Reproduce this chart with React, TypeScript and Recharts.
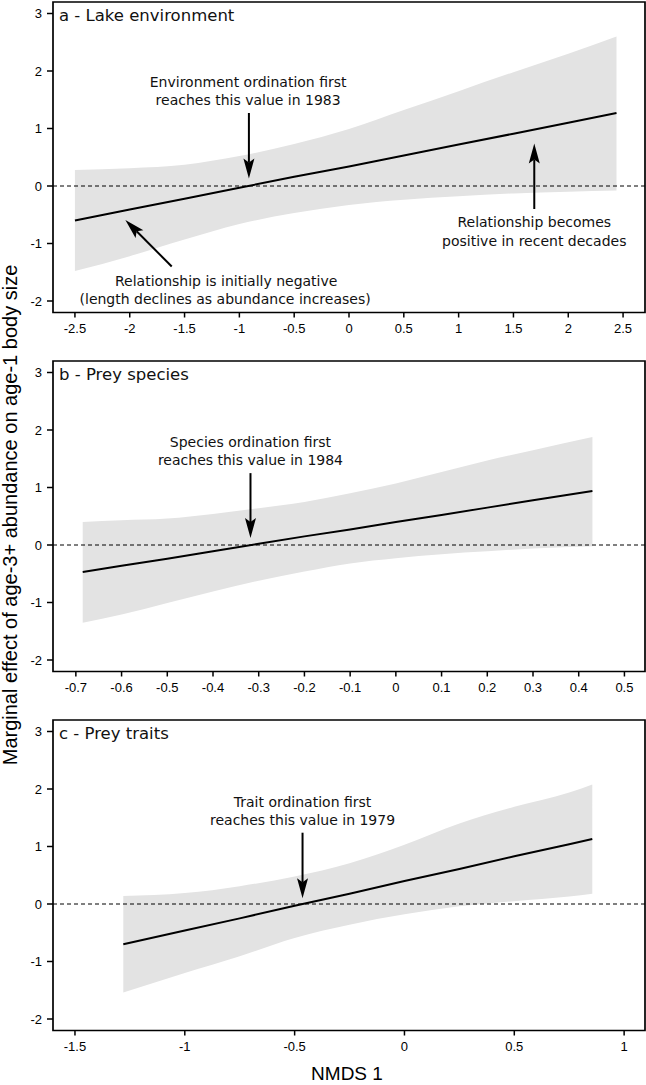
import React from 'react';
import {
  ComposedChart,
  Area,
  Line,
  XAxis,
  YAxis,
  ReferenceLine,
  ReferenceArea,
  ReferenceDot,
} from 'recharts';

// ---------- Panel a: Lake environment ----------
const envX = [-2.5, -2.0, -1.5, -1.0, -0.5, 0, 0.5, 1.0, 1.5, 2.0, 2.44];
const envFit = [-0.6, -0.41, -0.22, -0.03, 0.16, 0.34, 0.53, 0.72, 0.91, 1.1, 1.27];
const envLower = [-1.48, -1.22, -0.93, -0.66, -0.47, -0.33, -0.24, -0.18, -0.13, -0.1, -0.08];
const envUpper = [0.28, 0.31, 0.37, 0.52, 0.73, 0.99, 1.32, 1.65, 1.98, 2.3, 2.6];
const envTicks = [-2.5, -2, -1.5, -1, -0.5, 0, 0.5, 1, 1.5, 2, 2.5];

// ---------- Panel b: Prey species ----------
const spX = [-0.685, -0.6, -0.5, -0.4, -0.3, -0.2, -0.1, 0, 0.1, 0.2, 0.3, 0.43];
const spFit = [-0.47, -0.36, -0.24, -0.11, 0.02, 0.15, 0.27, 0.4, 0.52, 0.65, 0.78, 0.94];
const spLower = [-1.35, -1.21, -1.01, -0.81, -0.62, -0.46, -0.32, -0.23, -0.16, -0.11, -0.06, -0.02];
const spUpper = [0.4, 0.43, 0.46, 0.54, 0.64, 0.75, 0.9, 1.07, 1.27, 1.47, 1.65, 1.88];
const spTicks = [-0.7, -0.6, -0.5, -0.4, -0.3, -0.2, -0.1, 0, 0.1, 0.2, 0.3, 0.4, 0.5];

// ---------- Panel c: Prey traits ----------
const trX = [-1.28, -1.0, -0.75, -0.5, -0.25, 0, 0.25, 0.5, 0.75, 0.855];
const trFit = [-0.7, -0.46, -0.25, -0.03, 0.18, 0.4, 0.61, 0.83, 1.04, 1.13];
const trLower = [-1.54, -1.2, -0.91, -0.59, -0.36, -0.18, -0.04, 0.05, 0.13, 0.18];
const trUpper = [0.14, 0.19, 0.31, 0.48, 0.71, 1.03, 1.4, 1.69, 1.94, 2.08];
const trTicks = [-1.5, -1, -0.5, 0, 0.5, 1];

const yTicks = [-2, -1, 0, 1, 2, 3];
const yDomain: [number, number] = [-2.2, 3.2];

const envNotes = [
  { text: 'Environment ordination first', x: -0.92, y: 1.81 },
  { text: 'reaches this value in 1983', x: -0.92, y: 1.5 },
  { text: 'Relationship becomes', x: 1.69, y: -0.63 },
  { text: 'positive in recent decades', x: 1.69, y: -0.96 },
  { text: 'Relationship is initially negative', x: -1.12, y: -1.66 },
  { text: '(length declines as abundance increases)', x: -1.13, y: -1.97 },
];
const envArrows = [
  { from: [-0.913, 1.27], to: [-0.913, 0.13] },
  { from: [1.69, -0.4], to: [1.69, 0.74] },
  { from: [-1.617, -1.4], to: [-2.04, -0.59] },
];

const spNotes = [
  { text: 'Species ordination first', x: -0.318, y: 1.79 },
  { text: 'reaches this value in 1984', x: -0.318, y: 1.48 },
];
const spArrows = [{ from: [-0.318, 1.25], to: [-0.318, 0.12] }];

const trNotes = [
  { text: 'Trait ordination first', x: -0.464, y: 1.77 },
  { text: 'reaches this value in 1979', x: -0.464, y: 1.46 },
];
const trArrows = [{ from: [-0.464, 1.24], to: [-0.464, 0.1] }];

const PLOT_H = 310.5;
const M_TOP = 4;
const X_AX_H = 48;
const ANN_FONT = '"DejaVu Sans", Verdana, sans-serif';
const TICK_FONT = '"Liberation Sans", Arial, sans-serif';

function ArrowShape(props: any) {
  const { x1, y1, x2, y2 } = props;
  const dx = x2 - x1;
  const dy = y2 - y1;
  const len = Math.hypot(dx, dy) || 1;
  const ux = dx / len;
  const uy = dy / len;
  const nx = -uy;
  const ny = ux;
  const L = 20;
  const Wd = 5.5;
  const N = 4;
  const bx = x2 - ux * L;
  const by = y2 - uy * L;
  const kx = x2 - ux * (L - N);
  const ky = y2 - uy * (L - N);
  const pts = [
    [x2, y2],
    [bx + nx * Wd, by + ny * Wd],
    [kx, ky],
    [bx - nx * Wd, by - ny * Wd],
  ];
  return (
    <g>
      <line x1={x1} y1={y1} x2={kx} y2={ky} stroke="#000" strokeWidth={2} />
      <polygon points={pts.map((p) => p.join(',')).join(' ')} fill="#000" />
    </g>
  );
}

type Note = { text: string; x: number; y: number };
type Arr = { from: number[]; to: number[] };

function Panel(props: {
  top: number;
  xs: number[];
  fit: number[];
  lower: number[];
  upper: number[];
  ticks: number[];
  xDomain: [number, number];
  title: string;
  notes: Note[];
  arrows: Arr[];
}) {
  const { top, xs, fit, lower, upper, ticks, xDomain, title, notes, arrows } = props;
  const data = xs.map((x, i) => ({ x, fit: fit[i], band: [lower[i], upper[i]] }));
  return (
    <div style={{ position: 'absolute', left: 0, top: top - M_TOP }}>
      <ComposedChart
        width={646}
        height={M_TOP + PLOT_H + X_AX_H}
        data={data}
        margin={{ top: M_TOP, right: 1, bottom: 0, left: 0 }}
      >
        <XAxis
          dataKey="x"
          type="number"
          domain={xDomain}
          ticks={ticks}
          interval={0}
          allowDataOverflow
          height={X_AX_H}
          axisLine={false}
          tickSize={5}
          tickMargin={6}
          tickLine={{ stroke: '#000', strokeWidth: 1.5 }}
          tick={{ fill: '#000', fontSize: 13, fontFamily: TICK_FONT }}
        />
        <YAxis
          type="number"
          domain={yDomain}
          ticks={yTicks}
          interval={0}
          allowDataOverflow
          width={53}
          axisLine={false}
          tickSize={6}
          tickMargin={5}
          tickLine={{ stroke: '#000', strokeWidth: 1.5 }}
          tick={{ fill: '#000', fontSize: 13, fontFamily: TICK_FONT }}
        />
        <Area
          dataKey="band"
          type="monotone"
          stroke="none"
          fill="#e3e3e3"
          fillOpacity={1}
          isAnimationActive={false}
          activeDot={false}
        />
        <ReferenceLine y={0} stroke="#000" strokeWidth={1} strokeDasharray="4 3" />
        <Line
          dataKey="fit"
          type="linear"
          stroke="#000"
          strokeWidth={2}
          dot={false}
          activeDot={false}
          isAnimationActive={false}
        />
        {arrows.map((a, i) => (
          <ReferenceLine
            key={'ar' + i}
            segment={[
              { x: a.from[0], y: a.from[1] },
              { x: a.to[0], y: a.to[1] },
            ]}
            ifOverflow="visible"
            shape={(p: any) => <ArrowShape {...p} />}
          />
        ))}
        {notes.map((n, i) => (
          <ReferenceDot
            key={'nt' + i}
            x={n.x}
            y={n.y}
            r={1}
            ifOverflow="visible"
            shape={(p: any) => (
              <text
                x={p.cx}
                y={p.cy}
                textAnchor="middle"
                dominantBaseline="central"
                fontFamily={ANN_FONT}
                fontSize={14}
                fill="#111"
              >
                {n.text}
              </text>
            )}
          />
        ))}
        <ReferenceDot
          x={xDomain[0]}
          y={yDomain[1]}
          r={1}
          ifOverflow="visible"
          shape={(p: any) => (
            <text x={p.cx + 6} y={p.cy + 19} fontFamily={ANN_FONT} fontSize={16.5} fill="#111">
              {title}
            </text>
          )}
        />
        <ReferenceArea
          x1={xDomain[0]}
          x2={xDomain[1]}
          y1={yDomain[0]}
          y2={yDomain[1]}
          ifOverflow="visible"
          fill="none"
          fillOpacity={0}
          stroke="#000"
          strokeWidth={1.7}
        />
      </ComposedChart>
    </div>
  );
}

export default function App() {
  return (
    <div
      style={{
        position: 'absolute',
        left: 0,
        top: 0,
        width: 646,
        height: 1085,
        background: '#fff',
        overflow: 'hidden',
      }}
    >
      <Panel
        top={1.5}
        xs={envX}
        fit={envFit}
        lower={envLower}
        upper={envUpper}
        ticks={envTicks}
        xDomain={[-2.7, 2.7]}
        title="a - Lake environment"
        notes={envNotes}
        arrows={envArrows}
      />
      <Panel
        top={361}
        xs={spX}
        fit={spFit}
        lower={spLower}
        upper={spUpper}
        ticks={spTicks}
        xDomain={[-0.75, 0.545]}
        title="b - Prey species"
        notes={spNotes}
        arrows={spArrows}
      />
      <Panel
        top={720}
        xs={trX}
        fit={trFit}
        lower={trLower}
        upper={trUpper}
        ticks={trTicks}
        xDomain={[-1.6, 1.095]}
        title="c - Prey traits"
        notes={trNotes}
        arrows={trArrows}
      />
      <svg
        width={646}
        height={1085}
        style={{ position: 'absolute', left: 0, top: 0, pointerEvents: 'none' }}
      >
        <text
          transform="translate(10,515) rotate(-90)"
          textAnchor="middle"
          dominantBaseline="central"
          fontFamily={TICK_FONT}
          fontSize={20}
          fill="#000"
        >
          Marginal effect of age-3+ abundance on age-1 body size
        </text>
        <text
          x={347}
          y={1073}
          textAnchor="middle"
          dominantBaseline="central"
          fontFamily={TICK_FONT}
          fontSize={19}
          fill="#000"
        >
          NMDS 1
        </text>
      </svg>
    </div>
  );
}
